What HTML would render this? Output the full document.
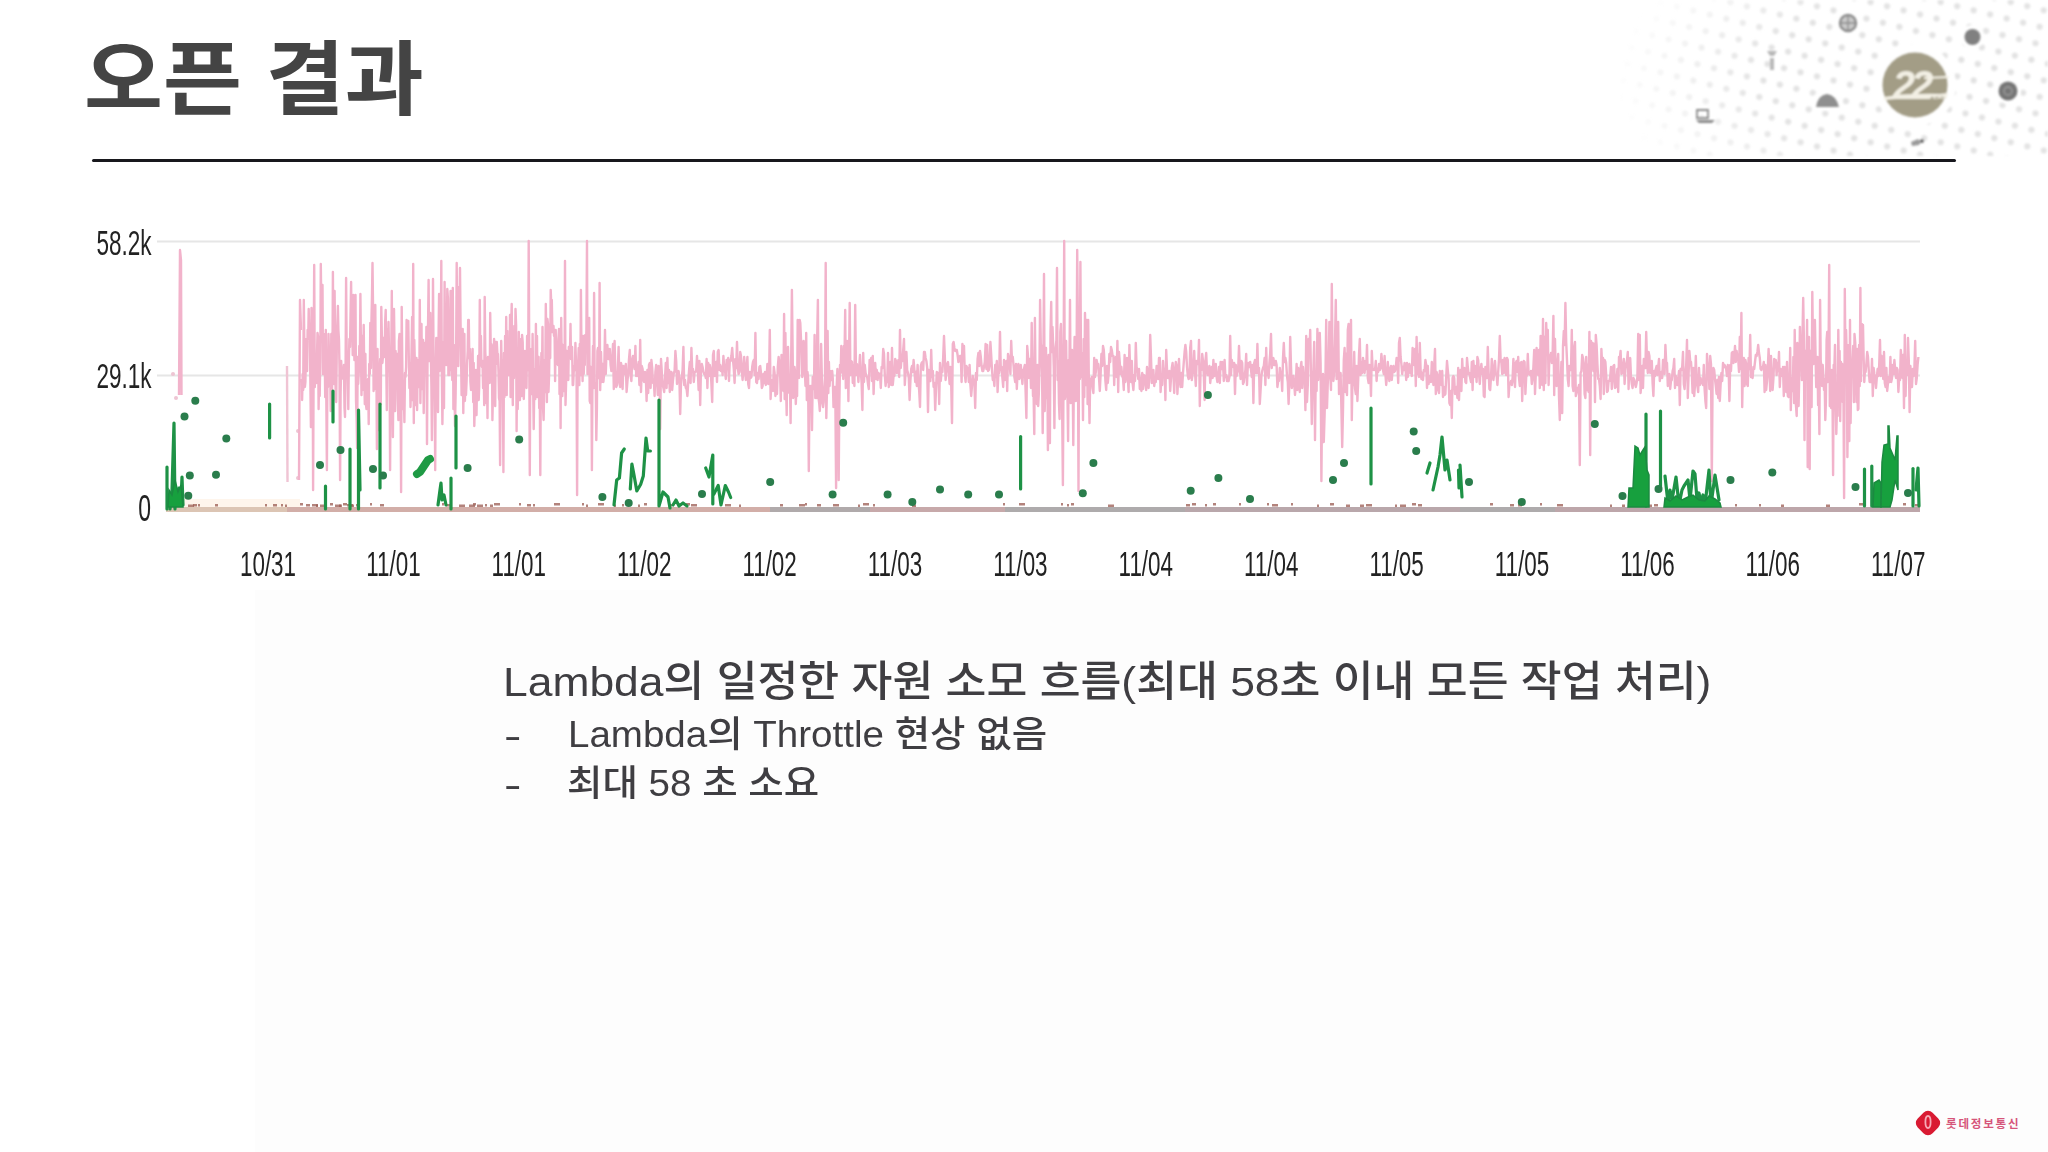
<!DOCTYPE html>
<html lang="ko">
<head>
<meta charset="utf-8">
<title>오픈 결과</title>
<style>
html,body{margin:0;padding:0;}
body{width:2048px;height:1152px;overflow:hidden;background:#ffffff;position:relative;
  font-family:"Liberation Sans","Noto Sans CJK KR",sans-serif;}
.abs{position:absolute;}
#tint{left:255px;top:590px;width:1793px;height:562px;background:#fdfdfd;}
#title{left:84px;top:22px;font-family:"Liberation Sans","Noto Sans CJK KR",sans-serif;font-weight:700;
  font-size:81px;line-height:116px;color:#444444;white-space:nowrap;letter-spacing:0px;transform:scaleX(1.06);transform-origin:0 0;}
#rule{left:92px;top:159px;width:1864px;height:3px;background:#18181d;border-radius:2px;}
#chart{left:0;top:0;width:2048px;height:1152px;filter:blur(0.45px);}
.txt{color:#3f3e42;font-weight:500;white-space:nowrap;font-family:"Liberation Sans","Noto Sans CJK KR",sans-serif;}
#l1{left:503px;top:653px;font-size:41.5px;line-height:58px;transform:scaleX(1.07);transform-origin:0 0;}
#l2{left:568px;top:710px;font-size:36px;line-height:50px;transform:scaleX(1.07);transform-origin:0 0;}
#l3{left:567px;top:759px;font-size:36px;line-height:50px;transform:scaleX(1.07);transform-origin:0 0;}
.dash{left:504px;font-size:36px;line-height:50px;transform:scaleX(1.45);transform-origin:0 0;}
#deco{left:1620px;top:0;width:428px;height:160px;}
#logo{left:1910px;top:1106px;width:130px;height:36px;}
</style>
</head>
<body>
<div id="tint" class="abs"></div>

<div id="deco" class="abs"><svg width="428" height="160" viewBox="1620 0 428 160">
  <defs>
    <pattern id="dots" x="1620" y="0" width="17" height="17" patternUnits="userSpaceOnUse" patternTransform="rotate(14)">
      <circle cx="8.5" cy="8.5" r="3.1" fill="#e2e2e2"/>
    </pattern>
    <radialGradient id="fade" cx="1975" cy="78" r="1" gradientUnits="userSpaceOnUse" gradientTransform="translate(1975 78) scale(365 165) translate(-1975 -78)">
      <stop offset="0" stop-color="#fff" stop-opacity="1"/>
      <stop offset="0.6" stop-color="#fff" stop-opacity="0.95"/>
      <stop offset="1" stop-color="#fff" stop-opacity="0"/>
    </radialGradient>
    <linearGradient id="vf" x1="0" y1="0" x2="0" y2="1">
      <stop offset="0" stop-color="#fff" stop-opacity="1"/>
      <stop offset="0.85" stop-color="#fff" stop-opacity="1"/>
      <stop offset="1" stop-color="#fff" stop-opacity="0.2"/>
    </linearGradient>
    <mask id="m">
      <rect x="1620" y="0" width="428" height="156" fill="url(#fade)"/>
      <circle cx="1915" cy="85" r="41" fill="#000"/>
      <circle cx="1972.5" cy="37" r="12" fill="#000"/>
      <circle cx="2008" cy="91" r="13" fill="#000"/>
      <circle cx="1848" cy="23" r="12" fill="#000"/>
      <ellipse cx="1827" cy="101" rx="16" ry="10" fill="#000"/>
    </mask>
    <filter id="soft" x="-5%" y="-5%" width="110%" height="110%"><feGaussianBlur stdDeviation="0.8"/></filter>
  </defs>
  <g filter="url(#soft)">
  <rect x="1620" y="0" width="428" height="156" fill="url(#dots)" mask="url(#m)"/>
  <!-- icons -->
  <circle cx="1848" cy="23" r="8" fill="#c9c9c9" stroke="#8a8a8a" stroke-width="2.4"/>
  <path d="M1841 23h14M1848 16v14" stroke="#8a8a8a" stroke-width="1.3"/>
  <circle cx="1972.5" cy="37" r="8" fill="#808080"/>
  <circle cx="2008" cy="91" r="9.5" fill="#767676"/>
  <circle cx="2008" cy="91" r="4" fill="none" stroke="#a0a0a0" stroke-width="1.3"/>
  <path d="M1816 107 Q1818 95 1827 94 Q1836 95 1839 107 Z" fill="#8f8f8f"/>
  <path d="M1697 110h11v8h-11z" fill="none" stroke="#8a8a8a" stroke-width="1.8"/>
  <path d="M1696 120h19l-3 3h-13z" fill="#8a8a8a"/>
  <path d="M1767 51h10l-3 5h-4z M1770 58h4v12h-4z" fill="#b8b8b8"/>
  <path d="M1911 142l7 -3 3 3 -2 3 -7 1z" fill="#9a9a9a"/>
  <circle cx="1922" cy="141" r="2" fill="#666"/>
  <!-- anniversary badge -->
  <circle cx="1915" cy="85" r="32.5" fill="#a39d86"/>
  <path d="M1884 97 Q1915 93 1940 94 L1948 93 L1947 96 Q1914 97 1884 100 Z" fill="#f4f1e6"/>
  <text x="1911" y="98.5" font-family="Liberation Sans, sans-serif" font-style="italic" font-weight="700" font-size="40" fill="#f2efe4" text-anchor="middle" letter-spacing="-4">22</text>
  <path d="M1924 78 L1949 77" stroke="#f4f1e6" stroke-width="1.8"/>
  <text x="1928" y="99" font-family="Liberation Sans, sans-serif" font-weight="700" font-size="7" fill="#f4f1e6">YEAR</text>
  </g>
</svg>
</div>

<div id="title" class="abs">오픈 결과</div>
<div id="rule" class="abs"></div>

<svg id="chart" class="abs" width="2048" height="1152" viewBox="0 0 2048 1152">
  <!-- gridlines -->
  <line x1="157" y1="241.5" x2="1920" y2="241.5" stroke="#e6e6e6" stroke-width="2"/>
  <line x1="157" y1="375.5" x2="1920" y2="375.5" stroke="#e6e6e6" stroke-width="2"/>
  <!-- y labels -->
  <g font-family="Liberation Sans, sans-serif" font-size="35.5" fill="#222222" text-anchor="end">
    <text x="151.5" y="255.5" transform="translate(151.5 0) scale(0.635 1) translate(-151.5 0)">58.2k</text>
    <text x="151.5" y="388.5" transform="translate(151.5 0) scale(0.635 1) translate(-151.5 0)">29.1k</text>
    <text x="151" y="521.5" font-size="37" transform="translate(151 0) scale(0.62 1) translate(-151 0)">0</text>
  </g>
  <!-- x labels -->
  <g font-family="Liberation Sans, sans-serif" font-size="35" fill="#222222" text-anchor="middle">
    <text x="268.0" y="576.5" transform="translate(268.0 0) scale(0.64 1) translate(-268.0 0)">10/31</text>
    <text x="393.4" y="576.5" transform="translate(393.4 0) scale(0.64 1) translate(-393.4 0)">11/01</text>
    <text x="518.8" y="576.5" transform="translate(518.8 0) scale(0.64 1) translate(-518.8 0)">11/01</text>
    <text x="644.2" y="576.5" transform="translate(644.2 0) scale(0.64 1) translate(-644.2 0)">11/02</text>
    <text x="769.6" y="576.5" transform="translate(769.6 0) scale(0.64 1) translate(-769.6 0)">11/02</text>
    <text x="895.0" y="576.5" transform="translate(895.0 0) scale(0.64 1) translate(-895.0 0)">11/03</text>
    <text x="1020.4" y="576.5" transform="translate(1020.4 0) scale(0.64 1) translate(-1020.4 0)">11/03</text>
    <text x="1145.8" y="576.5" transform="translate(1145.8 0) scale(0.64 1) translate(-1145.8 0)">11/04</text>
    <text x="1271.2" y="576.5" transform="translate(1271.2 0) scale(0.64 1) translate(-1271.2 0)">11/04</text>
    <text x="1396.6" y="576.5" transform="translate(1396.6 0) scale(0.64 1) translate(-1396.6 0)">11/05</text>
    <text x="1522.0" y="576.5" transform="translate(1522.0 0) scale(0.64 1) translate(-1522.0 0)">11/05</text>
    <text x="1647.4" y="576.5" transform="translate(1647.4 0) scale(0.64 1) translate(-1647.4 0)">11/06</text>
    <text x="1772.8" y="576.5" transform="translate(1772.8 0) scale(0.64 1) translate(-1772.8 0)">11/06</text>
    <text x="1898.2" y="576.5" transform="translate(1898.2 0) scale(0.64 1) translate(-1898.2 0)">11/07</text>
  </g>
  <!-- orange near-zero band (left) -->
  <rect x="166" y="499" width="134" height="8" fill="#fef5ec"/>
  <!-- pink series -->
  <g fill="none" stroke="#f2b3cb" stroke-width="2.4" stroke-linejoin="round">
    <polyline points="179,395 180,250 181,260 181.5,395"/>
    <circle cx="173" cy="374" r="2" fill="#eec5d3" stroke="none"/>
    <circle cx="176" cy="398" r="2" fill="#eec5d3" stroke="none"/>
    <polyline points="287,366 287.5,482" stroke="#f0c4d4"/>
    <circle cx="298" cy="431" r="2" fill="#eec5d3" stroke="none"/>
    <circle cx="298" cy="478" r="2" fill="#eec5d3" stroke="none"/>
    <polyline points="299,480 300,300 301,330"/>
    <polyline points="301.0,379 301.6,385 302.1,400 302.7,374 303.2,390 303.8,300 304.3,341 304.9,387 305.4,382 306.0,348 306.5,339 307.1,371 307.6,330 308.2,339 308.7,309 309.3,337 309.8,327 310.4,385 310.9,427 311.5,308 312.0,341 312.6,332 313.1,490 313.7,352 314.2,265 314.8,387 315.3,365 315.9,369 316.4,383 317.0,355 317.5,333 318.1,337 318.6,409 319.2,373 319.7,396 320.3,360 320.8,264 321.4,313 321.9,342 322.5,285 323.0,374 323.6,334 324.1,374 324.7,355 325.2,397 325.8,330 326.3,396 326.9,470 327.4,373 328.0,387 328.5,334 329.1,360 329.6,369 330.2,370 330.7,411 331.3,334 331.8,396 332.4,376 332.9,272 333.5,370 334.0,384 334.6,291 335.1,345 335.7,399 336.2,402 336.8,347 337.3,327 337.9,306 338.4,330 339.0,340 339.5,368 340.1,480 340.6,395 341.2,361 341.7,379 342.3,370 342.8,376 343.4,373 343.9,365 344.5,408 345.0,417 345.6,365 346.1,278 346.7,355 347.2,372 347.8,375 348.3,409 348.9,358 349.4,339 350.0,347 350.5,317 351.1,282 351.6,328 352.2,318 352.7,355 353.3,295 353.8,313 354.4,360 354.9,300 355.5,295 356.0,400 356.6,418 357.1,448 357.7,357 358.2,384 358.8,372 359.3,346 359.9,355 360.4,294 361.0,354 361.5,395 362.1,336 362.6,390 363.2,374 363.7,325 364.3,376 364.8,404 365.4,354 365.9,404 366.5,409 367.0,388 367.6,386 368.1,379 368.7,424 369.2,364 369.8,374 370.3,323 370.9,368 371.4,324 372.0,295 372.5,263 373.1,312 373.6,391 374.2,368 374.7,379 375.3,305 375.8,389 376.4,366 376.9,449 377.5,349 378.0,413 378.6,379 379.1,430 379.7,370 380.2,359 380.8,404 381.3,307 381.9,338 382.4,363 383.0,356 383.5,338 384.1,352 384.6,357 385.2,321 385.7,310 386.3,366 386.8,410 387.4,329 387.9,364 388.5,322 389.0,351 389.6,376 390.1,470 390.7,361 391.2,366 391.8,291 392.3,379 392.9,437 393.4,370 394.0,309 394.5,349 395.1,411 395.6,351 396.2,379 396.7,368 397.3,354 397.8,399 398.4,420 398.9,341 399.5,334 400.0,385 400.6,399 401.1,492 401.7,307 402.2,355 402.8,409 403.3,381 403.9,399 404.4,422 405.0,373 405.5,377 406.1,367 406.6,320 407.2,335 407.7,328 408.3,321 408.8,358 409.4,388 409.9,363 410.5,407 411.0,384 411.6,347 412.1,317 412.7,400 413.2,264 413.8,423 414.3,340 414.9,365 415.4,383 416.0,405 416.5,358 417.1,410 417.6,364 418.2,383 418.7,360 419.3,387 419.8,300 420.4,403 420.9,369 421.5,324 422.0,389 422.6,342 423.1,340 423.7,413 424.2,374 424.8,343 425.3,357 425.9,370 426.4,327 427.0,444 427.5,362 428.1,321 428.6,280 429.2,361 429.7,333 430.3,313 430.8,354 431.4,385 431.9,440 432.5,382 433.0,279 433.6,366 434.1,370 434.7,392 435.2,470 435.8,366 436.3,338 436.9,369 437.4,350 438.0,412 438.5,341 439.1,294 439.6,371 440.2,351 440.7,357 441.3,261 441.8,370 442.4,424 442.9,387 443.5,342 444.0,408 444.6,282 445.1,358 445.7,363 446.2,365 446.8,341 447.3,289 447.9,298 448.4,375 449.0,361 449.5,375 450.1,338 450.6,291 451.2,370 451.7,324 452.3,380 452.8,288 453.4,409 453.9,345 454.5,385 455.0,426 455.6,395 456.1,359 456.7,263 457.2,354 457.8,287 458.3,366 458.9,302 459.4,319 460.0,268 460.5,319 461.1,360 461.6,395 462.2,354 462.7,329 463.3,413 463.8,362 464.4,334 464.9,401 465.5,384 466.0,395 466.6,381 467.1,363 467.7,351 468.2,320 468.8,320 469.3,358 469.9,349 470.4,382 471.0,390 471.5,382 472.1,361 472.6,349 473.2,402 473.7,363 474.3,426 474.8,407 475.4,395 475.9,370 476.5,415 477.0,385 477.6,394 478.1,356 478.7,400 479.2,386 479.8,300 480.3,365 480.9,336 481.4,365 482.0,367 482.5,361 483.1,388 483.6,365 484.2,405 484.7,297 485.3,352 485.8,362 486.4,403 486.9,376 487.5,418 488.0,357 488.6,363 489.1,366 489.7,383 490.2,313 490.8,352 491.3,344 491.9,346 492.4,420 493.0,393 493.5,366 494.1,339 494.6,359 495.2,406 495.7,342 496.3,364 496.8,342 497.4,354 497.9,354 498.5,372 499.0,398 499.6,401 500.1,465 500.7,381 501.2,341 501.8,378 502.3,360 502.9,383 503.4,472 504.0,353 504.5,397 505.1,336 505.6,394 506.2,317 506.7,395 507.3,331 507.8,371 508.4,372 508.9,375 509.5,372 510.0,315 510.6,397 511.1,333 511.7,304 512.2,356 512.8,405 513.3,337 513.9,378 514.4,326 515.0,358 515.5,309 516.1,325 516.6,431 517.2,348 517.7,409 518.3,380 518.8,332 519.4,358 519.9,400 520.5,358 521.0,339 521.6,396 522.1,335 522.7,342 523.2,384 523.8,399 524.3,381 524.9,351 525.4,372 526.0,373 526.5,388 527.1,336 527.6,360 528.2,370 528.7,241 529.3,366 529.8,475 530.4,349 530.9,385 531.5,365 532.0,394 532.6,334 533.1,383 533.7,429 534.2,394 534.8,369 535.3,399 535.9,324 536.4,386 537.0,336 537.5,397 538.1,362 538.6,357 539.2,408 539.7,382 540.3,475 540.8,381 541.4,353 541.9,384 542.5,327 543.0,407 543.6,420 544.1,393 544.7,360 545.2,392 545.8,304 546.3,338 546.9,402 547.4,319 548.0,324 548.5,392 549.1,375 549.6,337 550.2,358 550.7,290 551.3,305 551.8,300 552.4,332 552.9,332 553.5,326 554.0,336 554.6,334 555.1,381 555.7,330 556.2,353 556.8,349 557.3,364 557.9,365 558.4,339 559.0,329 559.5,394 560.1,335 560.6,428 561.2,318 561.7,358 562.3,396 562.8,345 563.4,391 563.9,369 564.5,391 565.0,261 565.5,405 566.1,383 566.6,351 567.2,358 567.7,359 568.3,380 568.8,347 569.4,349 569.9,356 570.5,324 571.0,359 571.6,359 572.1,347 572.7,385 573.2,385 573.8,370 574.3,366 574.9,370 575.4,343 576.0,364 576.5,361 577.1,495 577.6,363 578.2,363 578.7,348 579.3,385 579.8,344 580.4,375 580.9,290 581.5,355 582.0,355 582.6,381 583.1,336 583.7,374 584.2,360 584.8,365 585.3,335 585.9,347 586.4,330 587.0,241 587.5,374 588.1,369 588.6,342 589.2,318 589.7,401 590.3,403 590.8,367 591.4,378 591.9,470 592.5,373 593.0,346 593.6,388 594.1,293 594.7,387 595.2,383 595.8,390 596.3,440 596.9,409 597.4,351 598.0,348 598.5,378 599.1,377 599.6,283 600.2,390 601.0,352 601.8,382 602.6,364 603.4,382 604.2,373 605.0,330 605.8,374 606.6,348 607.4,345 608.2,359 609.0,359 609.8,349 610.6,365 611.4,371 612.2,362 613.0,344 613.8,389 614.6,341 615.4,375 616.2,387 617.0,385 617.8,370 618.6,347 619.4,382 620.2,387 621.0,363 621.8,367 622.6,389 623.4,366 624.2,374 625.0,374 625.8,364 626.6,392 627.4,382 628.2,373 629.0,359 629.8,350 630.6,375 631.4,381 632.2,360 633.0,356 633.8,364 634.6,369 635.4,346 636.2,376 637.0,365 637.8,376 638.6,362 639.4,385 640.2,340 641.0,392 641.8,366 642.6,369 643.4,380 644.2,382 645.0,372 645.8,376 646.6,401 647.4,370 648.2,393 649.0,365 649.8,363 650.6,388 651.4,360 652.2,368 653.0,383 653.8,380 654.6,396 655.4,372 656.2,365 657.0,380 657.8,395 658.6,366 659.4,367 660.2,429 661.0,359 661.8,372 662.6,384 663.4,388 664.2,392 665.0,378 665.8,363 666.6,388 667.4,358 668.2,383 669.0,370 669.8,392 670.6,372 671.4,372 672.2,390 673.0,380 673.8,373 674.6,371 675.4,351 676.2,361 677.0,384 677.8,373 678.6,371 679.4,379 680.2,414 681.0,384 681.8,377 682.6,370 683.4,347 684.2,385 685.0,380 685.8,388 686.6,389 687.4,396 688.2,383 689.0,371 689.8,362 690.6,383 691.4,348 692.2,370 693.0,369 693.8,382 694.6,372 695.4,372 696.2,371 697.0,356 697.8,370 698.6,390 699.4,361 700.2,405 701.0,367 701.8,364 702.6,367 703.4,372 704.2,374 705.0,374 705.8,378 706.6,359 707.4,388 708.2,363 709.0,376 709.8,365 710.6,369 711.4,384 712.2,402 713.0,355 713.8,351 714.6,376 715.4,375 716.2,362 717.0,382 717.8,352 718.6,350 719.4,370 720.2,365 721.0,371 721.8,367 722.6,375 723.4,356 724.2,367 725.0,370 725.8,379 726.6,360 727.4,367 728.2,358 729.0,381 729.8,360 730.6,361 731.4,356 732.2,348 733.0,360 733.8,369 734.6,383 735.4,359 736.2,368 737.0,342 737.8,368 738.6,374 739.4,372 740.2,352 741.0,356 741.8,370 742.6,380 743.4,370 744.2,357 745.0,370 745.8,380 746.6,368 747.4,357 748.2,384 749.0,388 749.8,372 750.6,378 751.4,377 752.2,367 753.0,362 753.8,360 754.6,375 755.4,333 756.2,382 757.0,383 757.8,373 758.6,379 759.4,367 760.2,366 761.0,373 761.8,388 762.6,386 763.4,374 764.2,383 765.0,372 765.8,385 766.6,377 767.4,364 768.2,384 769.0,380 769.8,330 770.6,399 771.4,380 772.2,383 773.0,391 773.8,367 774.6,373 775.4,396 776.2,376 777.0,394 777.8,367 778.6,357 779.4,363 780.2,377 780.8,401 781.5,355 782.1,374 782.8,379 783.4,391 784.1,314 784.7,399 785.4,333 786.0,384 786.7,415 787.3,352 788.0,347 788.6,373 789.3,393 789.9,380 790.6,423 791.2,357 791.9,290 792.5,339 793.2,398 793.8,391 794.5,367 795.1,372 795.8,404 796.4,388 797.1,396 797.7,320 798.4,370 799.0,378 799.7,320 800.3,323 801.0,339 801.6,347 802.3,377 802.9,371 803.6,341 804.2,352 804.9,373 805.5,386 806.2,333 806.8,400 807.5,372 808.1,378 808.8,471 809.4,406 810.1,386 810.7,392 811.4,386 812.0,430 812.7,377 813.3,386 814.0,389 814.6,335 815.3,398 815.9,392 816.6,398 817.2,337 817.9,300 818.5,398 819.2,403 819.8,411 820.5,388 821.1,344 821.8,374 822.4,403 823.1,407 823.7,402 824.4,388 825.0,378 825.7,263 826.3,418 827.0,388 827.6,331 828.3,393 828.9,362 829.6,386 830.2,371 830.9,379 831.5,380 832.2,371 832.8,379 833.5,407 834.1,389 834.8,387 835.4,403 836.1,488 836.7,386 837.4,369 838.0,384 838.7,480 839.3,407 840.0,365 840.6,373 841.3,346 841.9,358 842.6,359 843.2,379 843.9,346 844.5,356 845.2,310 845.8,388 846.5,385 847.1,341 847.8,355 848.4,401 849.1,354 849.7,303 850.4,375 851.2,361 852.0,362 852.8,383 853.6,365 854.4,386 855.2,305 856.0,375 856.8,364 857.6,368 858.4,382 859.2,367 860.0,355 860.8,371 861.6,383 862.4,410 863.2,353 864.0,382 864.8,365 865.6,373 866.4,376 867.2,377 868.0,384 868.8,389 869.6,360 870.4,368 871.2,358 872.0,381 872.8,356 873.6,394 874.4,371 875.2,363 876.0,379 876.8,370 877.6,380 878.4,373 879.2,375 880.0,374 880.8,388 881.6,367 882.4,368 883.2,349 884.0,354 884.8,375 885.6,386 886.4,378 887.2,382 888.0,353 888.8,387 889.6,366 890.4,362 891.2,385 892.0,348 892.8,385 893.6,376 894.4,376 895.2,359 896.0,361 896.8,373 897.6,371 898.4,360 899.2,377 900.0,330 900.8,368 901.6,357 902.4,361 903.2,350 904.0,339 904.8,385 905.6,372 906.4,352 907.2,370 908.0,373 908.8,378 909.6,400 910.4,381 911.2,369 912.0,366 912.8,372 913.6,360 914.4,370 915.2,382 916.0,372 916.8,386 917.6,365 918.4,383 919.2,391 920.0,407 920.8,366 921.6,363 922.4,362 923.2,370 924.0,352 924.8,352 925.6,358 926.4,361 927.2,368 928.0,412 928.8,370 929.6,378 930.4,381 931.2,350 932.0,377 932.8,371 933.6,387 934.4,383 935.2,410 936.0,389 936.8,372 937.6,376 938.4,373 939.2,404 940.0,363 940.8,381 941.6,370 942.4,372 943.2,357 944.0,336 944.8,356 945.6,380 946.4,372 947.2,364 948.0,362 948.8,372 949.6,384 950.4,367 951.2,384 952.0,423 952.8,344 953.6,342 954.4,348 955.2,351 956.0,350 956.8,350 957.6,355 958.4,362 959.2,361 960.0,356 960.8,356 961.6,382 962.4,344 963.2,360 964.0,346 964.8,374 965.6,382 966.4,366 967.2,368 968.0,368 968.8,382 969.6,365 970.4,385 971.2,396 972.0,386 972.8,376 973.6,380 974.4,383 975.2,408 976.0,373 976.8,380 977.6,359 978.4,353 979.2,366 980.0,351 980.8,357 981.6,366 982.4,371 983.2,371 984.0,367 984.8,362 985.6,344 986.4,369 987.2,345 988.0,371 988.8,370 989.6,365 990.4,342 991.2,355 992.0,370 992.8,380 993.6,378 994.4,386 995.2,365 996.0,377 996.8,361 997.6,392 998.4,372 999.2,373 1000.0,332 1000.8,370 1001.6,367 1002.4,378 1003.2,387 1004.0,360 1004.8,380 1005.6,376 1006.4,361 1007.2,391 1008.0,354 1008.8,358 1009.6,362 1010.4,374 1011.2,341 1012.0,361 1012.8,357 1013.6,366 1014.4,377 1015.2,382 1016.0,364 1016.8,389 1017.6,373 1018.4,364 1019.2,379 1020.0,377 1020.8,365 1021.6,374 1022.4,384 1023.2,370 1024.0,369 1024.8,365 1025.6,391 1026.4,418 1027.2,346 1028.0,356 1028.8,378 1029.6,359 1030.4,371 1031.0,388 1031.7,323 1032.3,359 1033.0,396 1033.6,395 1034.3,434 1034.9,318 1035.6,385 1036.2,402 1036.9,404 1037.5,365 1038.2,406 1038.8,394 1039.5,365 1040.1,300 1040.8,344 1041.4,347 1042.1,377 1042.7,433 1043.4,354 1044.0,274 1044.7,411 1045.3,385 1046.0,348 1046.6,398 1047.3,358 1047.9,450 1048.6,355 1049.2,389 1049.9,443 1050.5,333 1051.2,302 1051.8,352 1052.5,327 1053.1,343 1053.8,368 1054.4,428 1055.1,358 1055.7,347 1056.4,340 1057.0,268 1057.7,380 1058.3,361 1059.0,404 1059.6,419 1060.3,332 1060.9,324 1061.6,365 1062.2,414 1062.9,485 1063.5,380 1064.2,241 1064.8,399 1065.5,394 1066.1,341 1066.8,394 1067.4,390 1068.1,441 1068.7,360 1069.4,374 1070.0,300 1070.7,403 1071.3,361 1072.0,350 1072.6,370 1073.3,445 1073.9,374 1074.6,337 1075.2,346 1075.9,401 1076.5,375 1077.2,250 1077.8,311 1078.5,491 1079.1,327 1079.8,379 1080.4,262 1081.1,377 1081.7,353 1082.4,359 1083.0,420 1083.7,339 1084.3,397 1085.0,313 1085.6,355 1086.3,385 1086.9,320 1087.6,404 1088.2,320 1088.9,386 1089.5,423 1090.2,379 1091.0,380 1091.8,377 1092.6,388 1093.4,393 1094.2,358 1095.0,377 1095.8,372 1096.6,360 1097.4,364 1098.2,364 1099.0,378 1099.8,391 1100.6,375 1101.4,354 1102.2,366 1103.0,346 1103.8,350 1104.6,364 1105.4,381 1106.2,390 1107.0,366 1107.8,383 1108.6,374 1109.4,354 1110.2,362 1111.0,347 1111.8,350 1112.6,356 1113.4,356 1114.2,385 1115.0,360 1115.8,357 1116.6,377 1117.4,341 1118.2,392 1119.0,352 1119.8,363 1120.6,374 1121.4,367 1122.2,376 1123.0,378 1123.8,390 1124.6,355 1125.4,382 1126.2,372 1127.0,358 1127.8,377 1128.6,392 1129.4,345 1130.2,372 1131.0,382 1131.8,361 1132.6,383 1133.4,390 1134.2,375 1135.0,381 1135.8,343 1136.6,367 1137.4,370 1138.2,379 1139.0,369 1139.8,389 1140.6,378 1141.4,391 1142.2,373 1143.0,389 1143.8,375 1144.6,376 1145.4,383 1146.2,390 1147.0,367 1147.8,376 1148.6,388 1149.4,376 1150.2,335 1151.0,357 1151.8,383 1152.6,382 1153.4,370 1154.2,386 1155.0,380 1155.8,382 1156.6,366 1157.4,375 1158.2,379 1159.0,358 1159.8,358 1160.6,392 1161.4,378 1162.2,385 1163.0,361 1163.8,376 1164.6,369 1165.4,400 1166.2,350 1167.0,369 1167.8,378 1168.6,375 1169.4,371 1170.2,391 1171.0,378 1171.8,368 1172.6,363 1173.4,375 1174.2,393 1175.0,370 1175.8,362 1176.6,366 1177.4,394 1178.2,378 1179.0,359 1179.8,381 1180.6,387 1181.4,373 1182.2,387 1183.0,373 1183.8,362 1184.6,352 1185.4,345 1186.2,352 1187.0,367 1187.8,376 1188.6,379 1189.4,378 1190.2,348 1191.0,341 1191.8,380 1192.6,374 1193.4,369 1194.2,351 1195.0,372 1195.8,386 1196.6,361 1197.4,363 1198.2,364 1199.0,340 1199.8,406 1200.6,370 1201.4,370 1202.2,354 1203.0,361 1203.8,375 1204.6,400 1205.4,361 1206.2,353 1207.0,371 1207.8,375 1208.6,370 1209.4,366 1210.2,383 1211.0,376 1211.8,367 1212.6,378 1213.4,360 1214.2,376 1215.0,372 1215.8,364 1216.6,377 1217.4,382 1218.2,379 1219.0,367 1219.8,383 1220.6,362 1221.4,369 1222.2,362 1223.0,363 1223.8,381 1224.6,360 1225.4,377 1226.2,375 1227.0,381 1227.8,377 1228.6,381 1229.4,377 1230.2,336 1231.0,375 1231.8,360 1232.6,365 1233.4,367 1234.2,363 1235.0,394 1235.8,365 1236.6,376 1237.4,373 1238.2,369 1239.0,346 1239.8,368 1240.6,379 1241.4,361 1242.2,363 1243.0,384 1243.8,382 1244.6,376 1245.4,370 1246.2,354 1247.0,385 1247.8,366 1248.6,363 1249.4,367 1250.2,362 1251.0,370 1251.8,377 1252.6,365 1253.4,403 1254.2,363 1255.0,360 1255.8,373 1256.6,373 1257.4,344 1258.2,373 1259.0,368 1259.8,404 1260.6,390 1261.4,376 1262.2,371 1263.0,368 1263.8,366 1264.6,358 1265.4,385 1266.2,348 1267.0,375 1267.8,367 1268.6,378 1269.4,363 1270.2,353 1271.0,334 1271.8,368 1272.6,360 1273.4,358 1274.2,365 1275.0,365 1275.8,361 1276.6,365 1277.4,387 1278.2,381 1279.0,381 1279.8,368 1280.6,374 1281.4,375 1282.2,391 1283.0,358 1283.8,343 1284.6,362 1285.4,358 1286.2,363 1287.0,376 1287.8,382 1288.6,404 1289.4,383 1290.2,337 1291.0,366 1291.8,388 1292.6,381 1293.4,376 1294.2,384 1295.0,395 1295.8,385 1296.6,364 1297.4,390 1298.2,368 1299.0,371 1299.8,392 1300.6,368 1301.4,362 1302.2,388 1303.0,367 1303.8,378 1304.6,377 1305.4,410 1306.2,336 1307.0,402 1307.8,385 1308.6,339 1309.4,354 1310.2,330 1311.0,378 1311.8,424 1312.6,379 1313.4,370 1314.2,342 1315.0,440 1315.8,371 1316.6,391 1317.4,329 1318.2,380 1319.0,354 1319.8,333 1320.6,363 1321.4,481 1322.2,388 1323.0,374 1323.8,442 1324.6,415 1325.4,382 1326.2,320 1327.0,408 1327.8,382 1328.6,371 1329.4,322 1330.2,374 1331.0,390 1331.8,284 1332.6,364 1333.4,381 1334.2,371 1335.0,343 1335.8,300 1336.6,379 1337.4,356 1338.2,322 1339.0,394 1339.8,377 1340.6,373 1341.4,409 1342.2,447 1343.0,410 1343.8,360 1344.6,348 1345.4,392 1346.2,354 1347.0,395 1347.8,330 1348.6,324 1349.4,383 1350.2,372 1351.0,320 1351.8,420 1352.6,372 1353.4,385 1354.2,352 1355.0,388 1355.8,394 1356.6,366 1357.4,401 1358.2,380 1359.0,355 1359.8,339 1360.6,375 1361.4,362 1362.2,373 1363.0,358 1363.8,364 1364.6,373 1365.4,361 1366.2,369 1367.0,345 1367.8,378 1368.6,383 1369.4,365 1370.2,372 1371.0,396 1371.8,351 1372.6,368 1373.4,370 1374.2,369 1375.0,370 1375.8,361 1376.6,381 1377.4,369 1378.2,372 1379.0,364 1379.8,370 1380.6,368 1381.4,354 1382.2,363 1383.0,370 1383.8,374 1384.6,356 1385.4,374 1386.2,385 1387.0,376 1387.8,362 1388.6,374 1389.4,381 1390.2,369 1391.0,366 1391.8,380 1392.6,370 1393.4,366 1394.2,372 1395.0,371 1395.8,367 1396.6,358 1397.4,364 1398.2,383 1399.0,343 1399.8,338 1400.6,357 1401.4,364 1402.2,374 1403.0,367 1403.8,370 1404.6,363 1405.4,365 1406.2,380 1407.0,363 1407.8,377 1408.6,367 1409.4,364 1410.2,373 1411.0,366 1411.8,376 1412.6,348 1413.4,361 1414.2,365 1415.0,349 1415.8,386 1416.6,337 1417.4,374 1418.2,355 1419.0,377 1419.8,343 1420.6,370 1421.4,379 1422.2,373 1423.0,380 1423.8,370 1424.6,371 1425.4,360 1426.2,365 1427.0,388 1427.8,366 1428.6,384 1429.4,377 1430.2,376 1431.0,382 1431.8,362 1432.6,370 1433.4,385 1434.2,366 1435.0,349 1435.8,394 1436.6,372 1437.4,375 1438.2,390 1439.0,393 1439.8,371 1440.6,377 1441.4,385 1442.2,371 1443.0,397 1443.8,387 1444.6,395 1445.4,394 1446.2,377 1447.0,361 1447.8,370 1448.6,378 1449.4,403 1450.2,405 1451.0,391 1451.8,418 1452.6,378 1453.4,376 1454.2,378 1455.0,394 1455.8,389 1456.6,387 1457.4,398 1458.2,368 1459.0,400 1459.8,375 1460.6,370 1461.4,391 1462.2,359 1463.0,377 1463.8,370 1464.6,368 1465.4,382 1466.2,383 1467.0,358 1467.8,367 1468.6,374 1469.4,373 1470.2,378 1471.0,382 1471.8,362 1472.6,390 1473.4,361 1474.2,377 1475.0,366 1475.8,369 1476.6,382 1477.4,357 1478.2,360 1479.0,374 1479.8,384 1480.6,370 1481.4,364 1482.2,374 1483.0,369 1483.8,396 1484.6,397 1485.4,367 1486.2,371 1487.0,378 1487.8,347 1488.6,372 1489.4,389 1490.2,390 1491.0,377 1491.8,359 1492.6,368 1493.4,380 1494.2,373 1495.0,361 1495.8,374 1496.6,375 1497.4,385 1498.2,372 1499.0,359 1499.8,336 1500.6,359 1501.4,363 1502.2,374 1503.0,360 1503.8,373 1504.6,358 1505.4,368 1506.2,375 1507.0,358 1507.8,360 1508.6,397 1509.4,384 1510.2,384 1511.0,381 1511.8,385 1512.6,378 1513.4,359 1514.2,378 1515.0,387 1515.8,363 1516.6,361 1517.4,372 1518.2,357 1519.0,378 1519.8,386 1520.6,363 1521.4,362 1522.2,401 1523.0,372 1523.8,361 1524.6,362 1525.4,394 1526.2,377 1527.0,375 1527.8,354 1528.6,374 1529.4,373 1530.2,375 1531.0,371 1531.8,384 1532.6,378 1533.4,367 1534.2,350 1535.0,394 1535.8,374 1536.6,348 1537.4,360 1538.2,375 1539.0,350 1539.8,388 1540.6,336 1541.4,373 1542.2,385 1543.0,319 1543.8,390 1544.6,337 1545.4,383 1546.2,323 1547.0,354 1547.8,330 1548.6,385 1549.4,356 1550.2,359 1551.0,353 1551.8,363 1552.6,356 1553.4,316 1554.2,395 1555.0,339 1555.8,376 1556.6,386 1557.4,365 1558.2,354 1559.0,397 1559.8,420 1560.6,388 1561.4,362 1562.2,413 1563.0,346 1563.8,331 1564.6,345 1565.4,303 1566.2,342 1567.0,360 1567.8,379 1568.6,386 1569.4,366 1570.2,367 1571.0,370 1571.8,330 1572.6,386 1573.4,391 1574.2,348 1575.0,342 1575.8,396 1576.6,393 1577.4,388 1578.2,389 1579.0,385 1579.8,465 1580.6,373 1581.4,371 1582.2,355 1583.0,358 1583.8,364 1584.6,394 1585.4,398 1586.2,357 1587.0,390 1587.8,365 1588.6,392 1589.4,332 1590.2,455 1591.0,341 1591.8,369 1592.6,343 1593.4,371 1594.2,344 1595.0,402 1595.8,335 1596.6,345 1597.4,364 1598.2,379 1599.0,379 1599.8,386 1600.6,399 1601.4,349 1602.2,366 1603.0,358 1603.8,394 1604.6,360 1605.4,362 1606.2,375 1607.0,392 1607.8,391 1608.6,381 1609.4,381 1610.2,377 1611.0,367 1611.8,389 1612.6,379 1613.4,366 1614.2,365 1615.0,388 1615.8,387 1616.6,380 1617.4,369 1618.2,392 1619.0,357 1619.8,358 1620.6,351 1621.4,374 1622.2,373 1623.0,366 1623.8,359 1624.6,384 1625.4,370 1626.2,364 1627.0,360 1627.8,352 1628.6,389 1629.4,360 1630.2,358 1631.0,377 1631.8,384 1632.6,388 1633.4,378 1634.2,380 1635.0,384 1635.8,387 1636.6,383 1637.4,377 1638.2,334 1639.0,380 1639.8,335 1640.6,393 1641.4,382 1642.2,366 1643.0,388 1643.8,359 1644.6,367 1645.4,368 1646.2,332 1647.0,361 1647.8,373 1648.6,352 1649.4,356 1650.2,373 1651.0,364 1651.8,361 1652.6,383 1653.4,396 1654.2,371 1655.0,376 1655.8,369 1656.6,366 1657.4,375 1658.2,367 1659.0,359 1659.8,381 1660.6,374 1661.4,372 1662.2,378 1663.0,360 1663.8,360 1664.6,374 1665.4,345 1666.2,362 1667.0,363 1667.8,386 1668.6,375 1669.4,374 1670.2,389 1671.0,381 1671.8,380 1672.6,371 1673.4,368 1674.2,359 1675.0,388 1675.8,376 1676.6,381 1677.4,385 1678.2,380 1679.0,371 1679.8,405 1680.6,369 1681.4,370 1682.2,367 1683.0,352 1683.8,384 1684.6,389 1685.4,374 1686.2,365 1687.0,340 1687.8,398 1688.6,374 1689.4,351 1690.2,361 1691.0,362 1691.8,373 1692.6,393 1693.4,368 1694.2,396 1695.0,385 1695.8,356 1696.6,382 1697.4,386 1698.2,392 1699.0,368 1699.8,385 1700.6,378 1701.4,382 1702.2,383 1703.0,385 1703.8,365 1704.6,389 1705.4,401 1706.2,408 1707.0,354 1707.8,366 1708.6,369 1709.4,389 1710.2,356 1711.0,364 1711.8,481 1712.6,380 1713.4,368 1714.2,370 1715.0,379 1715.8,386 1716.6,394 1717.4,380 1718.2,398 1719.0,377 1719.8,401 1720.6,385 1721.4,373 1722.2,381 1723.0,363 1723.8,367 1724.6,365 1725.4,367 1726.2,369 1727.0,376 1727.8,365 1728.6,368 1729.4,401 1730.2,365 1731.0,371 1731.8,353 1732.6,352 1733.4,363 1734.2,358 1735.0,346 1735.8,362 1736.6,351 1737.4,357 1738.2,359 1739.0,372 1739.8,337 1740.6,369 1741.4,313 1742.2,407 1743.0,363 1743.8,358 1744.6,386 1745.4,360 1746.2,364 1747.0,384 1747.8,386 1748.6,358 1749.4,369 1750.2,335 1751.0,377 1751.8,373 1752.6,378 1753.4,367 1754.2,369 1755.0,362 1755.8,355 1756.6,356 1757.4,352 1758.2,345 1759.0,353 1759.8,358 1760.6,369 1761.4,370 1762.2,367 1763.0,367 1763.8,362 1764.6,392 1765.4,365 1766.2,390 1767.0,381 1767.8,368 1768.6,349 1769.4,371 1770.2,391 1771.0,356 1771.8,380 1772.6,390 1773.4,379 1774.2,359 1775.0,360 1775.8,360 1776.6,375 1777.4,363 1778.2,371 1779.0,352 1779.8,387 1780.6,369 1781.4,374 1782.2,376 1783.0,367 1783.8,396 1784.6,367 1785.4,382 1786.2,392 1787.0,362 1787.8,396 1788.6,397 1789.4,386 1790.2,348 1790.8,410 1791.5,378 1792.1,383 1792.8,391 1793.4,357 1794.1,403 1794.7,330 1795.4,376 1796.0,406 1796.7,416 1797.3,343 1798.0,385 1798.6,406 1799.3,372 1799.9,327 1800.6,361 1801.2,342 1801.9,380 1802.5,334 1803.2,298 1803.8,334 1804.5,440 1805.1,351 1805.8,378 1806.4,368 1807.1,320 1807.7,467 1808.4,340 1809.0,337 1809.7,469 1810.3,351 1811.0,385 1811.6,407 1812.3,292 1812.9,339 1813.6,364 1814.2,323 1814.9,320 1815.5,352 1816.2,387 1816.8,383 1817.5,357 1818.1,405 1818.8,387 1819.4,434 1820.1,300 1820.7,360 1821.4,368 1822.0,386 1822.7,365 1823.3,374 1824.0,390 1824.6,379 1825.3,420 1825.9,402 1826.6,340 1827.2,332 1827.9,382 1828.5,358 1829.2,265 1829.8,406 1830.5,395 1831.1,408 1831.8,370 1832.4,381 1833.1,475 1833.7,365 1834.4,367 1835.0,345 1835.7,401 1836.3,434 1837.0,407 1837.6,416 1838.3,330 1838.9,375 1839.6,351 1840.2,421 1840.9,362 1841.5,376 1842.2,364 1842.8,402 1843.5,401 1844.1,498 1844.8,289 1845.4,356 1846.1,330 1846.7,354 1847.4,457 1848.0,399 1848.7,345 1849.3,441 1850.0,320 1850.6,423 1851.3,368 1851.9,373 1852.6,360 1853.2,346 1853.9,402 1854.5,334 1855.2,342 1855.8,358 1856.5,402 1857.1,349 1857.8,410 1858.4,409 1859.1,345 1859.7,386 1860.4,288 1861.0,381 1861.7,324 1862.3,359 1863.0,325 1863.6,356 1864.3,382 1864.9,371 1865.6,372 1866.4,363 1867.2,352 1868.0,357 1868.8,371 1869.6,382 1870.4,382 1871.2,382 1872.0,359 1872.8,396 1873.6,368 1874.4,374 1875.2,379 1876.0,388 1876.8,378 1877.6,369 1878.4,376 1879.2,365 1880.0,340 1880.8,376 1881.6,356 1882.4,366 1883.2,379 1884.0,352 1884.8,383 1885.6,387 1886.4,368 1887.2,391 1888.0,383 1888.8,377 1889.6,382 1890.4,357 1891.2,382 1892.0,378 1892.8,365 1893.6,374 1894.4,360 1895.2,370 1896.0,378 1896.8,368 1897.6,370 1898.4,392 1899.2,377 1900.0,380 1900.8,350 1901.6,359 1902.4,378 1903.2,355 1904.0,408 1904.8,335 1905.6,396 1906.4,360 1907.2,375 1908.0,338 1908.8,361 1909.6,412 1910.4,366 1911.2,381 1912.0,387 1912.8,369 1913.6,376 1914.4,368 1915.2,341 1916.0,384 1916.8,378 1917.6,365 1918.4,357"/>
  </g>
  <!-- baseline -->
  <rect x="166" y="507" width="121" height="5" fill="#dcc5b4"/>
  <rect x="287" y="507" width="483" height="5" fill="#d2aea8"/>
  <rect x="770" y="507" width="100" height="5" fill="#b0aaab"/>
  <rect x="870" y="507" width="135" height="5" fill="#c7a9aa"/>
  <rect x="1005" y="507" width="180" height="5" fill="#aeabac"/>
  <rect x="1185" y="507" width="275" height="5" fill="#b9a7ab"/>
  <rect x="1460" y="507" width="95" height="5" fill="#aeabac"/>
  <rect x="1555" y="507" width="365" height="5" fill="#bda6aa"/>
  <rect x="188" y="504.5" width="6" height="2.5" fill="#9a5a50" opacity="0.75"/>
  <rect x="193" y="504" width="4" height="2.5" fill="#9a5a50" opacity="0.75"/>
  <rect x="198" y="504" width="2" height="2.5" fill="#9a5a50" opacity="0.75"/>
  <rect x="215" y="504" width="3" height="2.5" fill="#9a5a50" opacity="0.75"/>
  <rect x="265" y="504" width="2" height="2.5" fill="#9a5a50" opacity="0.75"/>
  <rect x="273" y="504" width="4" height="2.5" fill="#9a5a50" opacity="0.75"/>
  <rect x="281" y="504" width="2" height="2.5" fill="#9a5a50" opacity="0.75"/>
  <rect x="285" y="504.5" width="2" height="2.5" fill="#9a5a50" opacity="0.75"/>
  <rect x="300" y="503" width="3" height="2.5" fill="#9a5a50" opacity="0.75"/>
  <rect x="306" y="504" width="4" height="2.5" fill="#9a5a50" opacity="0.75"/>
  <rect x="312" y="504" width="6" height="2.5" fill="#9a5a50" opacity="0.75"/>
  <rect x="316" y="504.5" width="2" height="2.5" fill="#9a5a50" opacity="0.75"/>
  <rect x="320" y="504.5" width="6" height="2.5" fill="#9a5a50" opacity="0.75"/>
  <rect x="330" y="503" width="3" height="2.5" fill="#9a5a50" opacity="0.75"/>
  <rect x="335" y="504.5" width="6" height="2.5" fill="#9a5a50" opacity="0.75"/>
  <rect x="339" y="504.5" width="3" height="2.5" fill="#9a5a50" opacity="0.75"/>
  <rect x="343" y="503" width="4" height="2.5" fill="#9a5a50" opacity="0.75"/>
  <rect x="347" y="504" width="6" height="2.5" fill="#9a5a50" opacity="0.75"/>
  <rect x="351" y="504.5" width="3" height="2.5" fill="#9a5a50" opacity="0.75"/>
  <rect x="356" y="504" width="2" height="2.5" fill="#9a5a50" opacity="0.75"/>
  <rect x="370" y="503" width="2" height="2.5" fill="#9a5a50" opacity="0.75"/>
  <rect x="380" y="504" width="4" height="2.5" fill="#9a5a50" opacity="0.75"/>
  <rect x="442" y="503" width="2" height="2.5" fill="#9a5a50" opacity="0.75"/>
  <rect x="446" y="504" width="4" height="2.5" fill="#9a5a50" opacity="0.75"/>
  <rect x="459" y="504.5" width="6" height="2.5" fill="#9a5a50" opacity="0.75"/>
  <rect x="469" y="504.5" width="6" height="2.5" fill="#9a5a50" opacity="0.75"/>
  <rect x="473" y="503" width="3" height="2.5" fill="#9a5a50" opacity="0.75"/>
  <rect x="477" y="504.5" width="6" height="2.5" fill="#9a5a50" opacity="0.75"/>
  <rect x="485" y="504" width="2" height="2.5" fill="#9a5a50" opacity="0.75"/>
  <rect x="490" y="504.5" width="3" height="2.5" fill="#9a5a50" opacity="0.75"/>
  <rect x="494" y="503" width="6" height="2.5" fill="#9a5a50" opacity="0.75"/>
  <rect x="519" y="503" width="2" height="2.5" fill="#9a5a50" opacity="0.75"/>
  <rect x="527" y="504" width="4" height="2.5" fill="#9a5a50" opacity="0.75"/>
  <rect x="533" y="504" width="2" height="2.5" fill="#9a5a50" opacity="0.75"/>
  <rect x="554" y="503" width="6" height="2.5" fill="#9a5a50" opacity="0.75"/>
  <rect x="582" y="503" width="2" height="2.5" fill="#9a5a50" opacity="0.75"/>
  <rect x="586" y="504.5" width="2" height="2.5" fill="#9a5a50" opacity="0.75"/>
  <rect x="598" y="503" width="6" height="2.5" fill="#9a5a50" opacity="0.75"/>
  <rect x="614" y="504.5" width="2" height="2.5" fill="#9a5a50" opacity="0.75"/>
  <rect x="622" y="504" width="2" height="2.5" fill="#9a5a50" opacity="0.75"/>
  <rect x="638" y="504.5" width="2" height="2.5" fill="#9a5a50" opacity="0.75"/>
  <rect x="644" y="503" width="3" height="2.5" fill="#9a5a50" opacity="0.75"/>
  <rect x="668" y="504" width="4" height="2.5" fill="#9a5a50" opacity="0.75"/>
  <rect x="686" y="503" width="4" height="2.5" fill="#9a5a50" opacity="0.75"/>
  <rect x="691" y="504" width="6" height="2.5" fill="#9a5a50" opacity="0.75"/>
  <rect x="725" y="504" width="6" height="2.5" fill="#9a5a50" opacity="0.75"/>
  <rect x="739" y="504.5" width="2" height="2.5" fill="#9a5a50" opacity="0.75"/>
  <rect x="780" y="504" width="3" height="2.5" fill="#9a5a50" opacity="0.75"/>
  <rect x="799" y="504" width="6" height="2.5" fill="#9a5a50" opacity="0.75"/>
  <rect x="805" y="503" width="2" height="2.5" fill="#9a5a50" opacity="0.75"/>
  <rect x="817" y="504" width="4" height="2.5" fill="#9a5a50" opacity="0.75"/>
  <rect x="833" y="504" width="6" height="2.5" fill="#9a5a50" opacity="0.75"/>
  <rect x="858" y="504.5" width="2" height="2.5" fill="#9a5a50" opacity="0.75"/>
  <rect x="863" y="503" width="6" height="2.5" fill="#9a5a50" opacity="0.75"/>
  <rect x="873" y="504" width="2" height="2.5" fill="#9a5a50" opacity="0.75"/>
  <rect x="912" y="504.5" width="4" height="2.5" fill="#9a5a50" opacity="0.75"/>
  <rect x="1003" y="503" width="2" height="2.5" fill="#9a5a50" opacity="0.75"/>
  <rect x="1019" y="503" width="6" height="2.5" fill="#9a5a50" opacity="0.75"/>
  <rect x="1061" y="503" width="2" height="2.5" fill="#9a5a50" opacity="0.75"/>
  <rect x="1067" y="504" width="2" height="2.5" fill="#9a5a50" opacity="0.75"/>
  <rect x="1071" y="503" width="3" height="2.5" fill="#9a5a50" opacity="0.75"/>
  <rect x="1108" y="504.5" width="6" height="2.5" fill="#9a5a50" opacity="0.75"/>
  <rect x="1186" y="504" width="4" height="2.5" fill="#9a5a50" opacity="0.75"/>
  <rect x="1192" y="503" width="4" height="2.5" fill="#9a5a50" opacity="0.75"/>
  <rect x="1205" y="504" width="2" height="2.5" fill="#9a5a50" opacity="0.75"/>
  <rect x="1213" y="503" width="3" height="2.5" fill="#9a5a50" opacity="0.75"/>
  <rect x="1239" y="503" width="2" height="2.5" fill="#9a5a50" opacity="0.75"/>
  <rect x="1267" y="503" width="2" height="2.5" fill="#9a5a50" opacity="0.75"/>
  <rect x="1272" y="504" width="6" height="2.5" fill="#9a5a50" opacity="0.75"/>
  <rect x="1291" y="503" width="2" height="2.5" fill="#9a5a50" opacity="0.75"/>
  <rect x="1317" y="504.5" width="2" height="2.5" fill="#9a5a50" opacity="0.75"/>
  <rect x="1330" y="503" width="4" height="2.5" fill="#9a5a50" opacity="0.75"/>
  <rect x="1346" y="504.5" width="4" height="2.5" fill="#9a5a50" opacity="0.75"/>
  <rect x="1360" y="504.5" width="4" height="2.5" fill="#9a5a50" opacity="0.75"/>
  <rect x="1366" y="504" width="6" height="2.5" fill="#9a5a50" opacity="0.75"/>
  <rect x="1395" y="504.5" width="2" height="2.5" fill="#9a5a50" opacity="0.75"/>
  <rect x="1400" y="504.5" width="6" height="2.5" fill="#9a5a50" opacity="0.75"/>
  <rect x="1412" y="503" width="4" height="2.5" fill="#9a5a50" opacity="0.75"/>
  <rect x="1418" y="504" width="4" height="2.5" fill="#9a5a50" opacity="0.75"/>
  <rect x="1490" y="503" width="3" height="2.5" fill="#9a5a50" opacity="0.75"/>
  <rect x="1510" y="504" width="4" height="2.5" fill="#9a5a50" opacity="0.75"/>
  <rect x="1518" y="504" width="4" height="2.5" fill="#9a5a50" opacity="0.75"/>
  <rect x="1540" y="503" width="2" height="2.5" fill="#9a5a50" opacity="0.75"/>
  <rect x="1557" y="504" width="6" height="2.5" fill="#9a5a50" opacity="0.75"/>
  <rect x="1610" y="504.5" width="2" height="2.5" fill="#9a5a50" opacity="0.75"/>
  <rect x="1622" y="504.5" width="3" height="2.5" fill="#9a5a50" opacity="0.75"/>
  <rect x="1646" y="504.5" width="6" height="2.5" fill="#9a5a50" opacity="0.75"/>
  <rect x="1654" y="504" width="4" height="2.5" fill="#9a5a50" opacity="0.75"/>
  <rect x="1675" y="504" width="4" height="2.5" fill="#9a5a50" opacity="0.75"/>
  <rect x="1717" y="504" width="3" height="2.5" fill="#9a5a50" opacity="0.75"/>
  <rect x="1735" y="504" width="2" height="2.5" fill="#9a5a50" opacity="0.75"/>
  <rect x="1759" y="504" width="2" height="2.5" fill="#9a5a50" opacity="0.75"/>
  <rect x="1781" y="504.5" width="3" height="2.5" fill="#9a5a50" opacity="0.75"/>
  <rect x="1826" y="504.5" width="4" height="2.5" fill="#9a5a50" opacity="0.75"/>
  <rect x="1859" y="503" width="6" height="2.5" fill="#9a5a50" opacity="0.75"/>
  <rect x="1887" y="504" width="4" height="2.5" fill="#9a5a50" opacity="0.75"/>
  <rect x="1903" y="503" width="3" height="2.5" fill="#9a5a50" opacity="0.75"/>
  <rect x="1915" y="504" width="3" height="2.5" fill="#9a5a50" opacity="0.75"/>
  <!-- green series -->
<g fill="none" stroke="#1e9246" stroke-width="3.2" stroke-linejoin="round" stroke-linecap="round">
<polyline points="167,509 167,467"/>
<polyline points="170,509 172,490 174,423 175,509"/>
<polyline points="177,505 179,488 181,500 182,477 183,505"/>
<polyline points="269.6,404 269.6,438"/>
<polyline points="325.5,509 325.5,486"/>
<polyline points="333,391 333,422"/>
<polyline points="350,509 350,449"/>
<polyline points="358.5,509 358.5,410 360,490"/>
<polyline points="380,404 380,488"/>
<polyline points="438,505 440,490 441,483 442,500 444,495 446,505"/>
<polyline points="451,509 451,478"/>
<polyline points="456,416 456,468"/>
<polyline points="614,505 616.7,480 619.4,478 621.6,453 624.3,449"/>
<polyline points="630.3,489 631.9,464 634,475 636.8,491 640.6,484.5 643.3,476 646,438 647.7,451 650.4,451"/>
<polyline points="659,506 659,400 659,506 663,492 668,497 670,508"/>
<polyline points="673,505 676,500 679,506 683,503 687,506"/>
<polyline points="705.7,468 709,477 712.8,455 712.8,504"/>
<polyline points="713.9,494 718.2,485.5 721,505 725.3,485.5 728.5,492 730.7,497.5"/>
<polyline points="1020.6,436.5 1020.6,489"/>
<polyline points="1371,408 1371,484"/>
<polyline points="1427,473 1430,463"/>
<polyline points="1433,490 1438,467 1440,455 1442,437 1445,470 1447,460 1450,480"/>
<polyline points="1458.5,470 1459,488"/>
<polyline points="1460,465 1462,497"/>
<polyline points="1660.5,411 1660.5,488"/>
<polyline points="1646,414 1646,506"/>
<polyline points="1665,476 1668,503 1670,490 1672,500 1676,477 1679,505 1682,490 1684,486 1688,480 1690,500 1693,471 1695,474 1697,500 1699,493 1701,503 1703,495 1705,505 1709,470 1711,505 1715,475 1719,500"/>
<polyline points="1864.5,469 1864.5,506"/>
<polyline points="1871.8,466 1871.8,506"/>
<polyline points="1913,468.5 1913,506"/>
<polyline points="1916,490 1918,468 1919,506"/>
</g>
<g fill="#17a03e" stroke="#1b8a40" stroke-width="1.5">
<polygon points="1664,507 1665,498 1670,501 1676,496 1682,500 1688,497 1693,495 1699,500 1705,501 1709,496 1715,499 1720,503 1721,507"/>
<polygon points="168,507 169,490 172,495 175,480 178,492 181,485 183,507"/>
<polygon points="1628,507 1629,488 1633,488 1635,446 1638,448 1640,455 1643,450 1645,447 1647,470 1649,475 1649,507"/>
<polygon points="1873,507 1874,483 1879,480 1881,483 1881,507"/>
<polygon points="1881,507 1882,462 1884,445 1888,444 1888,426 1889,426 1890,448 1893,455 1895,460 1897,436 1898,436 1898,490 1895,480 1892,500 1890,507"/>
</g>
<g fill="none" stroke="#1f9a45" stroke-width="8" stroke-linejoin="round" stroke-linecap="round">
<polyline points="417,474 420,472 424,466 428,460 430,459"/>
</g>
<g fill="#2a7d4c">
<circle cx="184.5" cy="416.4" r="4"/>
<circle cx="195.3" cy="400.8" r="4"/>
<circle cx="189.8" cy="475.6" r="4"/>
<circle cx="188.3" cy="495.7" r="4"/>
<circle cx="216" cy="474.8" r="4"/>
<circle cx="226.3" cy="438.6" r="4"/>
<circle cx="320" cy="465" r="4"/>
<circle cx="340.5" cy="450" r="4"/>
<circle cx="373" cy="469" r="4"/>
<circle cx="383" cy="475.6" r="4"/>
<circle cx="467.6" cy="468" r="4"/>
<circle cx="519.2" cy="439.6" r="4"/>
<circle cx="602.4" cy="497" r="4"/>
<circle cx="628.7" cy="503" r="4"/>
<circle cx="770.2" cy="482" r="4"/>
<circle cx="832.6" cy="494.5" r="4"/>
<circle cx="843.2" cy="422.7" r="4"/>
<circle cx="702" cy="494" r="4"/>
<circle cx="887.6" cy="494.5" r="4"/>
<circle cx="912.3" cy="502" r="4"/>
<circle cx="940" cy="489.4" r="4"/>
<circle cx="968.2" cy="494.5" r="4"/>
<circle cx="999" cy="494.5" r="4"/>
<circle cx="1082.8" cy="493.2" r="4"/>
<circle cx="1093.4" cy="463" r="4"/>
<circle cx="1207.9" cy="395" r="4"/>
<circle cx="1190.7" cy="490.7" r="4"/>
<circle cx="1218.4" cy="478" r="4"/>
<circle cx="1250" cy="499" r="4"/>
<circle cx="1333" cy="480" r="4"/>
<circle cx="1344" cy="463" r="4"/>
<circle cx="1413.7" cy="431.5" r="4"/>
<circle cx="1416.2" cy="451" r="4"/>
<circle cx="1469" cy="482" r="4"/>
<circle cx="1521.8" cy="502" r="4"/>
<circle cx="1594.8" cy="424" r="4"/>
<circle cx="1622.5" cy="496" r="4"/>
<circle cx="1658.5" cy="489" r="4"/>
<circle cx="1730.5" cy="480" r="4"/>
<circle cx="1772.3" cy="472.6" r="4"/>
<circle cx="1855.5" cy="487" r="4"/>
<circle cx="1908" cy="493" r="4"/>
</g>

</svg>

<div id="l1" class="abs txt">Lambda의 일정한 자원 소모 흐름(최대 58초 이내 모든 작업 처리)</div>
<div class="abs txt dash" style="top:711px">-</div>
<div id="l2" class="abs txt">Lambda의 Throttle 현상 없음</div>
<div class="abs txt dash" style="top:760px">-</div>
<div id="l3" class="abs txt">최대 58 초 소요</div>

<div id="logo" class="abs"><svg width="130" height="36" viewBox="1910 1106 130 36">
  <rect x="1917.5" y="1112.5" width="21" height="21" rx="6.5" fill="#d91a32" transform="rotate(45 1928 1123)"/>
  <ellipse cx="1928" cy="1122" rx="2.6" ry="6" fill="none" stroke="#f7aab6" stroke-width="1.8"/>
  <text x="1946" y="1127.5" font-family="Liberation Sans, Noto Sans CJK KR, sans-serif" font-size="11.5" font-weight="700" fill="#d6557a" letter-spacing="1.8">롯데정보통신</text>
</svg>
</div>
</body>
</html>
